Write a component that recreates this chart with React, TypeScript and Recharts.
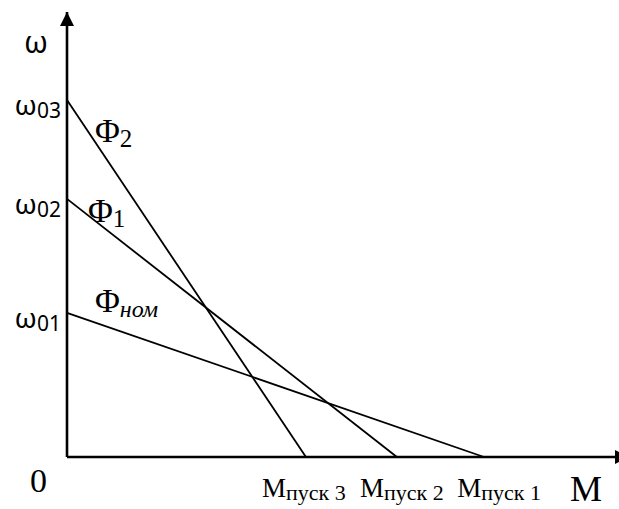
import { Line, LineChart, ReferenceDot, XAxis, YAxis, Label } from "recharts";

// speed–torque characteristics of a DC motor at different field fluxes
const fluxNames = ["2", "1", "ном"];
const idleSpeed = [80.2, 58, 32.4]; // ω03, ω02, ω01
const startTorque = [43.6, 60.2, 76.1]; // Mпуск3, Mпуск2, Mпуск1
const speedTickLabels = ["03", "02", "01"];
const torqueTickLabels = ["пуск 3", "пуск 2", "пуск 1"];

const SERIF = "'Liberation Serif', 'DejaVu Serif', serif";
const SANS = "'Noto Sans', 'DejaVu Sans', sans-serif";

// label placement tweaks (pixels)
const fluxLabelOffset = [
  [28, 42],
  [21, 23],
  [28, -1]
];
const torqueLabelShift = [-2, 5, 15];

function SpeedTick({ x, y, payload }: any) {
  const i = idleSpeed.indexOf(payload.value);
  return (
    <text x={x - 6} y={y + 15} textAnchor="end" fontFamily={SANS} fill="#000">
      <tspan fontSize={28}>ω</tspan>
      <tspan fontSize={21} dy={3}>
        {speedTickLabels[i]}
      </tspan>
    </text>
  );
}

function TorqueTick({ x, y, payload }: any) {
  const i = startTorque.indexOf(payload.value);
  return (
    <text x={x + torqueLabelShift[i]} y={y + 40} textAnchor="middle" fontFamily={SERIF} fill="#000">
      <tspan fontSize={27}>M</tspan>
      <tspan fontSize={22} dy={3}>
        {torqueTickLabels[i]}
      </tspan>
    </text>
  );
}

export default function App() {
  return (
    <div style={{ width: 619, height: 509, background: "#fff" }}>
      <style>{"body{margin:0}"}</style>
      <LineChart width={619} height={509} margin={{ top: 12, right: 4, bottom: 51, left: 66 }}>
        <XAxis
          dataKey="m"
          type="number"
          domain={[0, 100]}
          ticks={startTorque}
          interval={0}
          height={1}
          tickSize={0}
          tickMargin={0}
          tickLine={false}
          tick={<TorqueTick />}
          axisLine={{ stroke: "#000", strokeWidth: 2.6 }}
        >
          <Label
            content={({ viewBox }: any) => (
              <text
                x={viewBox.x + viewBox.width - 29}
                y={viewBox.y + 44}
                textAnchor="middle"
                fontFamily={SERIF}
                fontSize={36}
                fill="#000"
              >
                M
              </text>
            )}
          />
        </XAxis>
        <YAxis
          type="number"
          domain={[0, 100]}
          ticks={idleSpeed}
          interval={0}
          width={1}
          tickSize={0}
          tickMargin={0}
          tickLine={false}
          tick={<SpeedTick />}
          axisLine={{ stroke: "#000", strokeWidth: 2.6 }}
        >
          <Label
            content={({ viewBox }: any) => (
              <text
                x={viewBox.x + viewBox.width - 31}
                y={viewBox.y + 41}
                textAnchor="middle"
                fontFamily={SANS}
                fontSize={30}
                fill="#000"
              >
                ω
              </text>
            )}
          />
        </YAxis>

        {fluxNames.map((name, i) => (
          <Line
            key={name}
            data={[
              { m: 0, w: idleSpeed[i] },
              { m: startTorque[i], w: 0 }
            ]}
            dataKey="w"
            type="linear"
            stroke="#000"
            strokeWidth={1.8}
            dot={false}
            activeDot={false}
            isAnimationActive={false}
          />
        ))}

        {fluxNames.map((name, i) => (
          <ReferenceDot
            key={"lbl" + name}
            x={0}
            y={idleSpeed[i]}
            ifOverflow="visible"
            shape={({ cx, cy }: any) => (
              <text
                x={cx + fluxLabelOffset[i][0]}
                y={cy + fluxLabelOffset[i][1]}
                fontFamily={SERIF}
                fill="#000"
              >
                <tspan fontSize={34}>Φ</tspan>
                <tspan
                  fontSize={name === "ном" ? 24 : 25}
                  fontStyle={name === "ном" ? "italic" : "normal"}
                  dy={5}
                >
                  {name}
                </tspan>
              </text>
            )}
          />
        ))}

        <ReferenceDot
          x={0}
          y={0}
          ifOverflow="visible"
          shape={({ cx, cy }: any) => (
            <text x={cx - 28.5} y={cy + 35} textAnchor="middle" fontFamily={SERIF} fontSize={34} fill="#000">
              0
            </text>
          )}
        />
        <ReferenceDot
          x={0}
          y={100}
          ifOverflow="visible"
          shape={({ cx, cy }: any) => (
            <path d={`M${cx},${cy} L${cx - 7},${cy + 14} L${cx + 7},${cy + 14} Z`} fill="#000" />
          )}
        />
        <ReferenceDot
          x={100}
          y={0}
          ifOverflow="visible"
          shape={({ cx, cy }: any) => (
            <path d={`M${cx + 14},${cy} L${cx},${cy - 7} L${cx},${cy + 7} Z`} fill="#000" />
          )}
        />
      </LineChart>
    </div>
  );
}
